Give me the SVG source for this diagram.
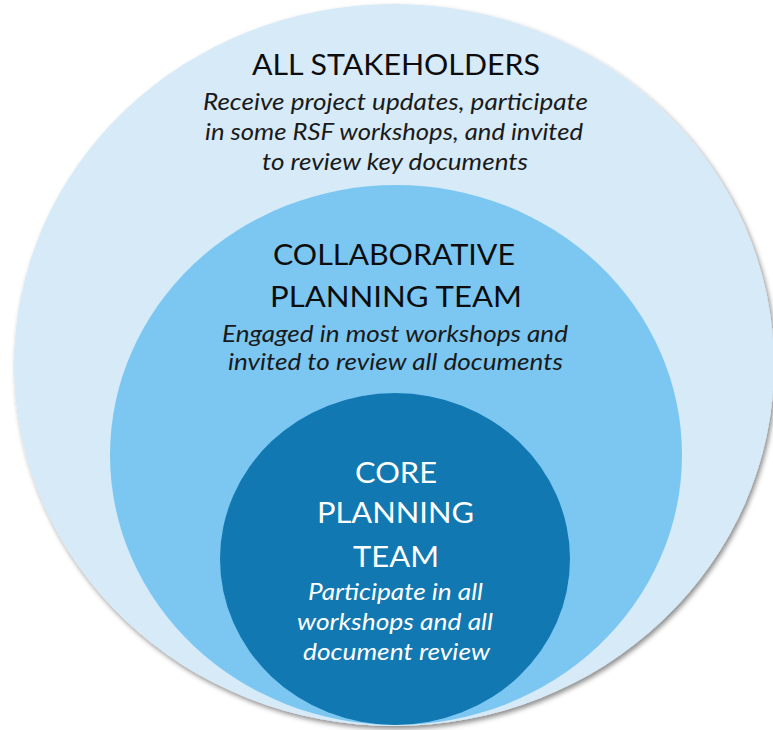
<svg xmlns="http://www.w3.org/2000/svg" width="773" height="730" viewBox="0 0 773 730">
<style>
.t{font-family:Lato,"Open Sans","Liberation Sans",sans-serif;font-size:29px;font-weight:400;text-anchor:middle;fill:#0d0d0d}
.d{font-family:Lato,"Open Sans","Liberation Sans",sans-serif;font-size:23px;font-style:italic;text-anchor:middle;fill:#1a1a1a}
.w{fill:#ffffff}
</style>
<defs>
<filter id="sh" x="-5%" y="-5%" width="112%" height="112%">
<feDropShadow dx="2" dy="3" stdDeviation="2.5" flood-color="#000" flood-opacity="0.45"/>
</filter>
</defs>
<rect width="773" height="730" fill="#ffffff"/>
<g id="all-stakeholders">
<ellipse cx="394" cy="365" rx="380" ry="361" fill="#d6eaf8" filter="url(#sh)"/>
<text class="t" x="396" y="75" textLength="288" lengthAdjust="spacingAndGlyphs">ALL STAKEHOLDERS</text>
<text class="d" x="395.5" y="110" textLength="385" lengthAdjust="spacingAndGlyphs">Receive project updates, participate</text>
<text class="d" x="394" y="140" textLength="378" lengthAdjust="spacingAndGlyphs">in some RSF workshops, and invited</text>
<text class="d" x="395" y="170" textLength="266" lengthAdjust="spacingAndGlyphs">to review key documents</text>
</g>
<g id="collaborative-planning-team">
<ellipse cx="396" cy="455" rx="286" ry="270" fill="#7cc7f2"/>
<text class="t" x="394" y="265" textLength="242" lengthAdjust="spacingAndGlyphs">COLLABORATIVE</text>
<text class="t" x="396" y="307" textLength="252" lengthAdjust="spacingAndGlyphs">PLANNING TEAM</text>
<text class="d" x="395" y="342" textLength="346" lengthAdjust="spacingAndGlyphs">Engaged in most workshops and</text>
<text class="d" x="395.5" y="370" textLength="335" lengthAdjust="spacingAndGlyphs">invited to review all documents</text>
</g>
<g id="core-planning-team">
<ellipse cx="395" cy="559" rx="175" ry="166" fill="#1178b2"/>
<text class="t w" x="396" y="483" textLength="82" lengthAdjust="spacingAndGlyphs">CORE</text>
<text class="t w" x="395.5" y="523" textLength="157" lengthAdjust="spacingAndGlyphs">PLANNING</text>
<text class="t w" x="396" y="567" textLength="86" lengthAdjust="spacingAndGlyphs">TEAM</text>
<text class="d w" x="395.5" y="600" textLength="175" lengthAdjust="spacingAndGlyphs">Participate in all</text>
<text class="d w" x="395" y="630" textLength="196" lengthAdjust="spacingAndGlyphs">workshops and all</text>
<text class="d w" x="396.5" y="660" textLength="187" lengthAdjust="spacingAndGlyphs">document review</text>
</g>
<g id="connectors"/>
</svg>
